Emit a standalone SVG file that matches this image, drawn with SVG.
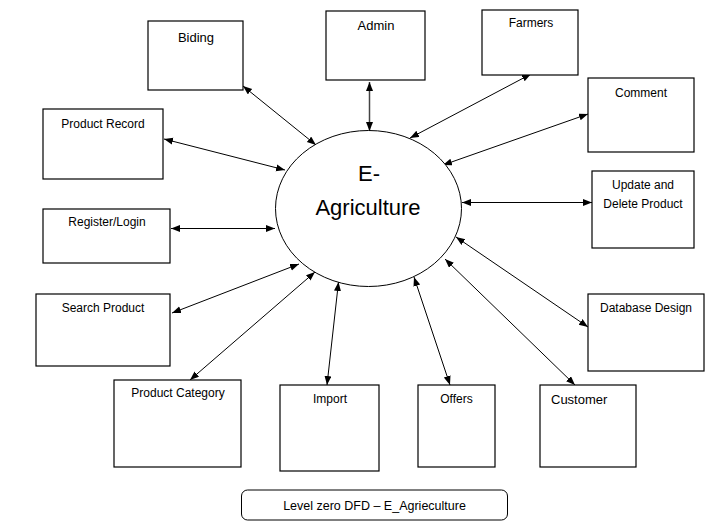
<svg xmlns="http://www.w3.org/2000/svg" width="725" height="525" viewBox="0 0 725 525">
<style>
.box{fill:#fff;stroke:#000;stroke-width:1.2}
.t{font-family:"Liberation Sans",Arial,sans-serif;font-size:12px;fill:#000;text-anchor:middle}
.t13{font-size:13px}
.big{font-family:"Liberation Sans",Arial,sans-serif;font-size:22px;fill:#000;text-anchor:middle}
.c{fill:none;stroke:#000;stroke-width:1;marker-start:url(#ah);marker-end:url(#ah)}
</style>
<defs>
<marker id="ah" markerUnits="userSpaceOnUse" markerWidth="10" markerHeight="8" refX="9" refY="3.5" orient="auto-start-reverse">
<path d="M0,0 L9,3.5 L0,7 z" fill="#000"/>
</marker>
</defs>
<rect width="725" height="525" fill="#fff"/>
<g id="connectors">
<line class="c" x1="243" y1="86" x2="316" y2="145"/>
<line class="c" x1="164" y1="139" x2="285" y2="170"/>
<line class="c" x1="171" y1="228.5" x2="275" y2="228.5"/>
<line class="c" x1="369.5" y1="82" x2="369.5" y2="131" style="stroke:#444;stroke-width:1.5"/>
<line class="c" x1="531" y1="74" x2="410" y2="138"/>
<line class="c" x1="588" y1="114" x2="443" y2="165"/>
<line class="c" x1="462" y1="202.5" x2="592" y2="202.5"/>
<line class="c" x1="456" y1="237" x2="588" y2="327"/>
<line class="c" x1="445" y1="259" x2="575" y2="385"/>
<line class="c" x1="414" y1="277" x2="450" y2="385"/>
<line class="c" x1="338.5" y1="282" x2="327" y2="385"/>
<line class="c" x1="315" y1="272" x2="190" y2="380"/>
<line class="c" x1="299" y1="264" x2="172" y2="313"/>
</g>
<g id="center">
<ellipse cx="368.5" cy="208.5" rx="93" ry="78" fill="#fff" stroke="#000" stroke-width="1"/>
<text class="big" x="369" y="181">E-</text>
<text class="big" x="368" y="215">Agriculture</text>
</g>
<g id="biding"><rect class="box" x="148" y="21" width="95" height="69"/><text class="t t13" x="196" y="42">Biding</text></g>
<g id="admin"><rect class="box" x="326" y="11" width="99" height="69"/><text class="t t13" x="376" y="30">Admin</text></g>
<g id="farmers"><rect class="box" x="482" y="10" width="96" height="65"/><text class="t" x="531" y="27">Farmers</text></g>
<g id="comment"><rect class="box" x="588" y="78" width="106" height="74"/><text class="t" x="641" y="97">Comment</text></g>
<g id="product-record"><rect class="box" x="43" y="109" width="120" height="70"/><text class="t" x="103" y="128">Product Record</text></g>
<g id="register-login"><rect class="box" x="43" y="209" width="127" height="54"/><text class="t" x="107" y="226">Register/Login</text></g>
<g id="update-delete"><rect class="box" x="592" y="171" width="102" height="77"/><text class="t" x="643" y="189">Update and</text><text class="t" x="643" y="208">Delete Product</text></g>
<g id="search-product"><rect class="box" x="36" y="294" width="134" height="72"/><text class="t" x="103" y="312">Search Product</text></g>
<g id="database-design"><rect class="box" x="588" y="294" width="116" height="77"/><text class="t" x="646" y="312">Database Design</text></g>
<g id="product-category"><rect class="box" x="114" y="380" width="127" height="87"/><text class="t" x="178" y="397">Product Category</text></g>
<g id="import"><rect class="box" x="280" y="385" width="99" height="86"/><text class="t" x="330" y="403">Import</text></g>
<g id="offers"><rect class="box" x="418" y="385" width="77" height="82"/><text class="t" x="456.5" y="403">Offers</text></g>
<g id="customer"><rect class="box" x="540" y="385" width="96" height="82"/><text class="t" x="551" y="404" style="text-anchor:start;font-size:13px">Customer</text></g>
<g id="caption"><rect x="241.5" y="490" width="266" height="30" rx="6" fill="#fff" stroke="#000" stroke-width="1"/><text class="t" x="374.5" y="510" style="font-size:12.5px">Level zero DFD – E_Agrieculture</text></g>
</svg>
